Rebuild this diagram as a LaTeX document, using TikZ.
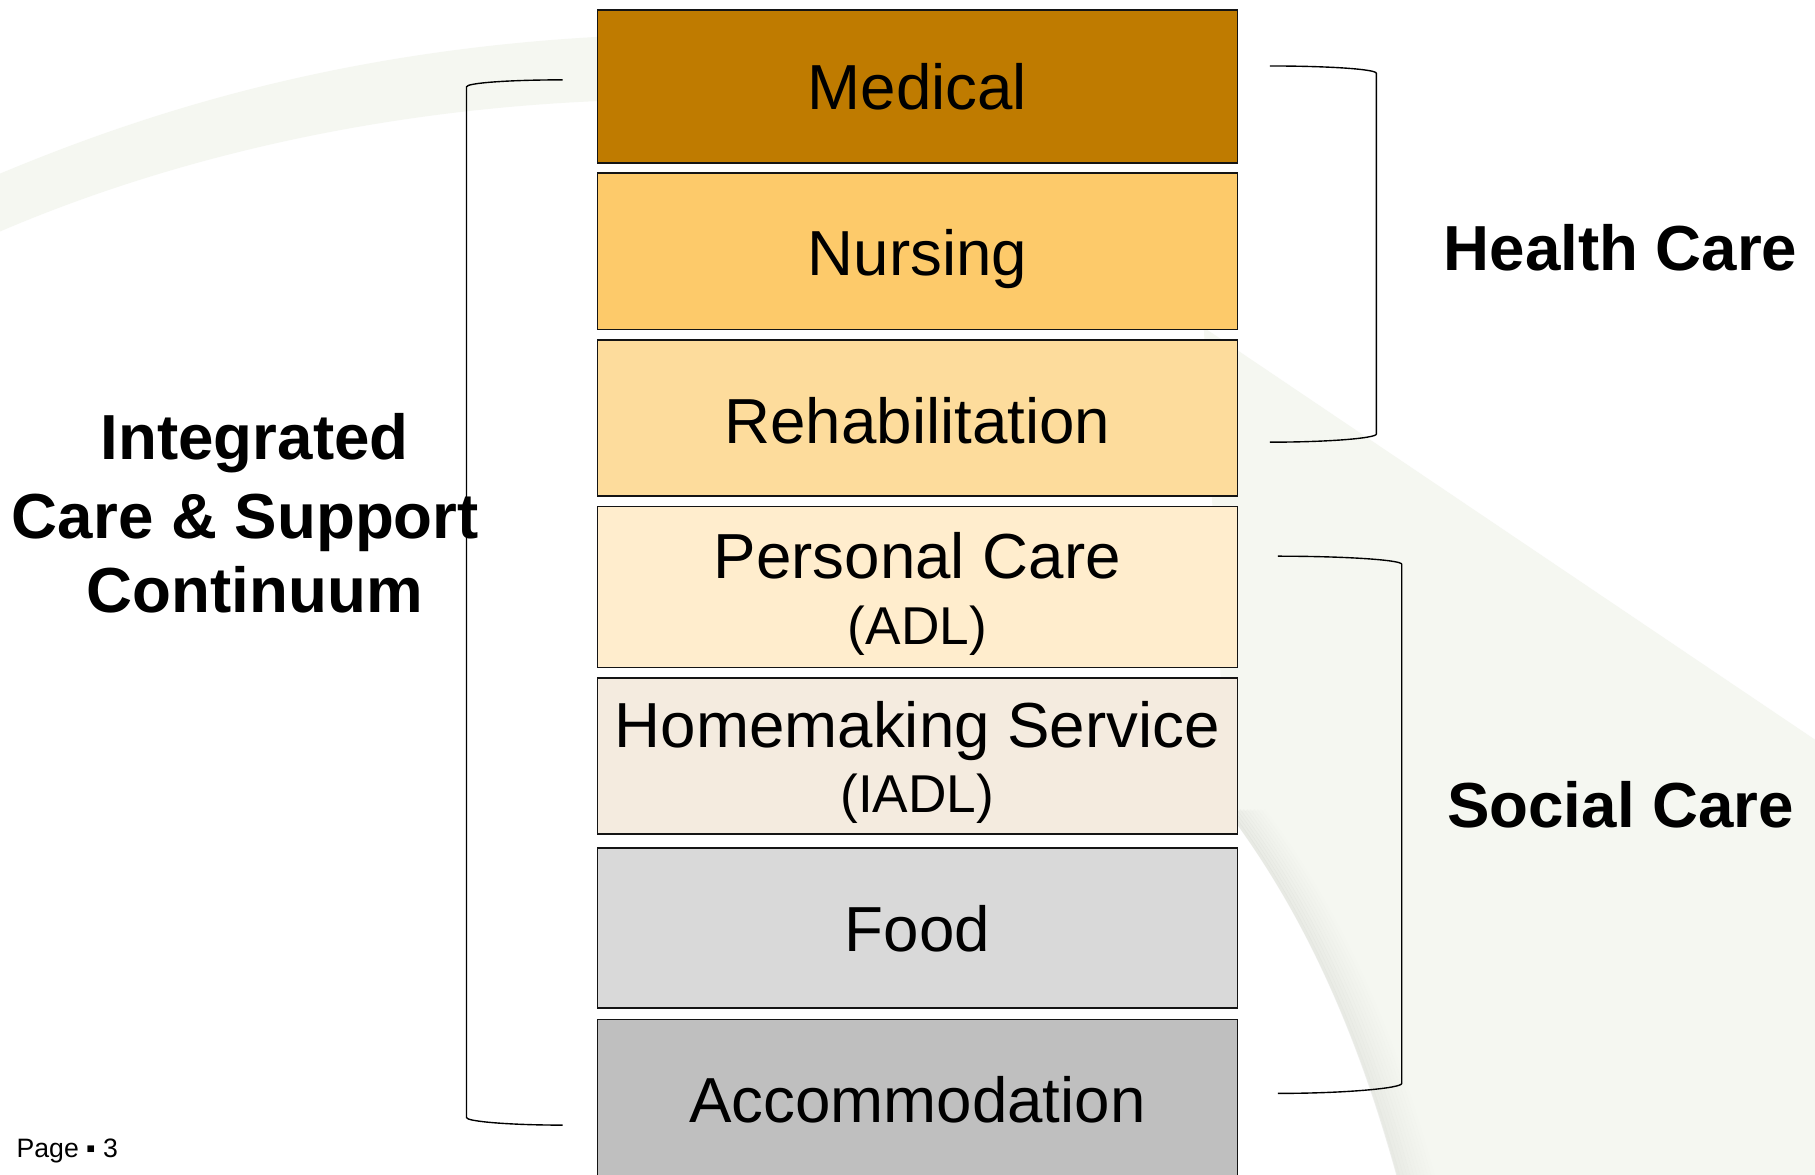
\documentclass[tikz,border=0pt]{standalone}
\usepackage{fontspec}
\setmainfont{Liberation Sans}
\definecolor{cMed}{RGB}{191,123,0}
\definecolor{cNur}{RGB}{253,202,106}
\definecolor{cReh}{RGB}{253,220,156}
\definecolor{cPer}{RGB}{255,237,205}
\definecolor{cHom}{RGB}{244,235,223}
\definecolor{cFood}{RGB}{217,217,217}
\definecolor{cAcc}{RGB}{191,191,191}
\definecolor{boxline}{RGB}{20,20,20}
\definecolor{tint}{RGB}{245,247,241}
\definecolor{shadowc}{RGB}{220,222,216}
\begin{document}
\begin{tikzpicture}[x=0.5pt,y=-0.5pt,
  box/.style={draw=boxline, line width=0.65pt, minimum width=276.5pt, inner sep=0pt, anchor=north},
  big/.style={font=\fontsize{27.5}{33}\selectfont, anchor=base, inner sep=0pt},
  small/.style={font=\fontsize{23}{28}\selectfont, anchor=base, inner sep=0pt},
  head/.style={font=\fontsize{27.5}{33}\selectfont\bfseries, anchor=base, inner sep=0pt},
  brk/.style={draw=black, line width=0.6pt},
]
\path[use as bounding box] (0,0) rectangle (1568,1015);
\clip (0,0) rectangle (1568,1015);
\fill[white] (0,0) rectangle (1568,1015);

% background swooshes
\fill[tint] (0,150) .. controls (120,100) and (300,38) .. (560,30) -- (560,86)
  .. controls (330,90) and (140,140) .. (0,200) -- cycle;
\fill[tint] (1040,283) -- (1568,639) -- (1568,1015) -- (1207,1015)
  .. controls (1170,880) and (1120,780) .. (1060,700) -- cycle;
\foreach \k/\o in {0/0.5,1/0.44,2/0.38,3/0.32,4/0.27,5/0.22,6/0.17,7/0.13,8/0.09,9/0.06,10/0.03} {
  \begin{scope}[xshift={(\k*3+1.5)*0.5pt}]
    \draw[shadowc, line width=1.5pt, opacity=\o] (1209,1025) .. controls (1170,880) and (1120,780) .. (1060,700);
  \end{scope}
}

% boxes
\node[box, fill=cMed, minimum height=66pt]   (med)  at (792.5,8)   {};
\node[box, fill=cNur, minimum height=67.5pt] (nur)  at (792.5,149) {};
\node[box, fill=cReh, minimum height=67.5pt] (reh)  at (792.5,293) {};
\node[box, fill=cPer, minimum height=69.5pt] (per)  at (792.5,437) {};
\node[box, fill=cHom, minimum height=67.5pt] (hom)  at (792.5,585) {};
\node[box, fill=cFood, minimum height=69pt]  (food) at (792.5,732) {};
\node[box, fill=cAcc, minimum height=80pt]   (acc)  at (792.5,880) {};

% box texts
\node[big] (tMed)  at (792.5,95)  {Medical};
\node[big] (tNur)  at (792.5,238) {Nursing};
\node[big] (tReh)  at (792.5,383) {Rehabilitation};
\node[big] (tPer)  at (792.5,500) {Personal Care};
\node[small] (tPer2) at (792.5,557) {(ADL)};
\node[big] (tHom)  at (792.5,646) {Homemaking Service};
\node[small] (tHom2) at (792.5,702) {(IADL)};
\node[big] (tFood) at (792.5,822) {Food};
\node[big] (tAcc)  at (792.5,970) {Accommodation};

% side labels
\node[head] (int1) at (220,397)   {Integrated};
\node[head] (int2) at (212,465)   {Care \& Support};
\node[head] (int3) at (220,529.5) {Continuum};
\node[head] (hc)   at (1400,234)  {Health Care};
\node[head] (sc)   at (1400,715)  {Social Care};
\node[font=\fontsize{11.5}{14}\selectfont, anchor=base west, inner sep=0pt] (pg) at (14,1000) {Page ▪ 3};

% brackets
\draw[brk] (486,69) .. controls (440,69) and (403,71.7) .. (403,75) -- (403,965.5)
  .. controls (403,968.8) and (440,972) .. (486,972);
\draw[brk] (1097,57) .. controls (1148,57) and (1189,59.8) .. (1189,63.3) -- (1189,375)
  .. controls (1189,378.5) and (1148,382) .. (1097,382);
\draw[brk] (1104,480.5) .. controls (1163,480.5) and (1211,483.8) .. (1211,487.5) -- (1211,936)
  .. controls (1211,940) and (1163,944.6) .. (1104,944.6);
\end{tikzpicture}
\end{document}
